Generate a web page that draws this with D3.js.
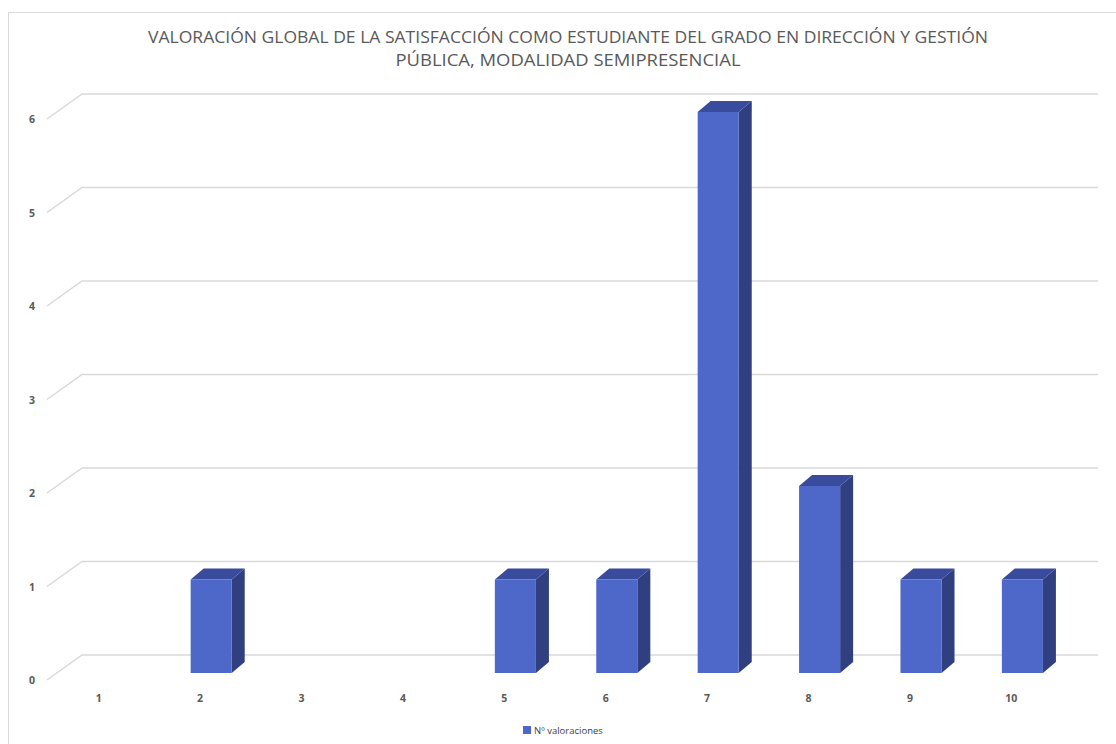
<!DOCTYPE html>
<html><head><meta charset="utf-8">
<script src="https://cdn.jsdelivr.net/npm/d3@7"></script>
<style>body{margin:0;background:#fff}svg{display:block}</style>
</head><body>
<svg id="c" width="1116" height="744"></svg>
<script>
const categories = ["1","2","3","4","5","6","7","8","9","10"];
const values = [0,1,0,0,1,1,6,2,1,1];
const yTicks = [0,1,2,3,4,5,6];
const seriesName = "Nº valoraciones";
const titleLines = ["VALORACIÓN GLOBAL DE LA SATISFACCIÓN COMO ESTUDIANTE DEL GRADO EN DIRECCIÓN Y GESTIÓN","PÚBLICA, MODALIDAD SEMIPRESENCIAL"];
const titleWidths = [840, 345];

const svg = d3.select("#c");
const font = "Open Sans, Liberation Sans, sans-serif";
const grid = "#d9d9d9";
const txt = "#595959";

// frame
svg.append("rect").attr("x",8.5).attr("y",12.5).attr("width",1120).attr("height",760)
  .attr("fill","none").attr("stroke",grid).attr("stroke-width",1);

// title
svg.append("g").selectAll("text").data(titleLines).join("text")
  .attr("x",568).attr("y",(d,i)=>43+i*23).attr("text-anchor","middle")
  .attr("textLength",(d,i)=>titleWidths[i]).attr("lengthAdjust","spacingAndGlyphs")
  .attr("font-family",font).attr("font-size",16.5).attr("fill",txt).text(d=>d);

const x = d3.scaleBand().domain(categories).range([48,1062]);
const y = d3.scaleLinear().domain([0,6]).range([673,112]);

// depth geometry
const backDx = 35, backDy = -25, frontOff = 7; // wall/floor
const gx0 = 47, gx1 = 1098;

const g = svg.append("g");
yTicks.forEach(t=>{
  const yf = y(t)+frontOff;
  g.append("path").attr("d",`M${gx0},${yf}L${gx0+backDx},${yf+backDy}L${gx1},${yf+backDy}`)
    .attr("fill","none").attr("stroke",grid).attr("stroke-width",1.5);
});

// y labels
svg.append("g").selectAll("text").data(yTicks).join("text")
  .attr("x",32).attr("y",t=>y(t)+frontOff+4).attr("text-anchor","middle")
  .attr("font-family",font).attr("font-size",10.5).attr("font-weight","bold").attr("fill",txt).text(d=>d);

// x labels
svg.append("g").selectAll("text").data(categories).join("text")
  .attr("x",d=>x(d)+x.bandwidth()/2).attr("y",702).attr("text-anchor","middle")
  .attr("font-family",font).attr("font-size",10.5).attr("font-weight","bold").attr("fill",txt).text(d=>d);

// bars
const bw = x.bandwidth()*0.405;
const ddx = 13, ddy = -11;
const bars = svg.append("g").selectAll("g").data(categories.map((c,i)=>({c,v:values[i]})).filter(d=>d.v>0)).join("g");
bars.each(function(d){
  const sel = d3.select(this);
  const x0 = x(d.c)+x.bandwidth()/2 - bw*0.23, x1 = x0+bw;
  const yt = y(d.v), yb = y(0);
  sel.append("path").attr("d",`M${x1},${yt}L${x1+ddx},${yt+ddy}L${x1+ddx},${yb+ddy}L${x1},${yb}Z`).attr("fill","#2f3f80");
  sel.append("path").attr("d",`M${x0},${yt}L${x0+ddx},${yt+ddy}L${x1+ddx},${yt+ddy}L${x1},${yt}Z`).attr("fill","#384b9c");
  sel.append("rect").attr("x",x0).attr("y",yt).attr("width",bw).attr("height",yb-yt).attr("fill","#4d68c8");
});

// legend
const lg = svg.append("g");
lg.append("rect").attr("x",523).attr("y",726).attr("width",8).attr("height",8).attr("fill","#4d68c8");
lg.append("text").attr("x",534).attr("y",734).attr("font-family",font).attr("font-size",9.5)
  .attr("fill","#404040").text(seriesName);
</script>
</body></html>
